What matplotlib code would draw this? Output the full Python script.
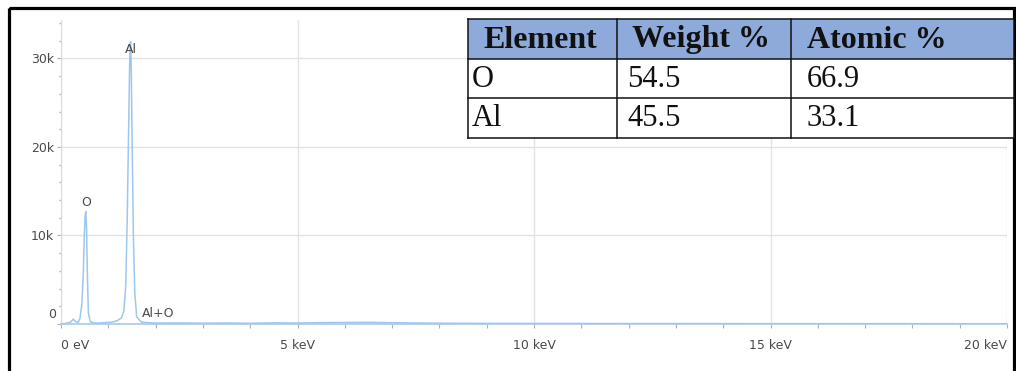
import matplotlib
matplotlib.use("Agg")
import matplotlib.pyplot as plt
from matplotlib.patches import Rectangle

# EDS spectrum (energy in keV, counts)
ENERGY = [0.00, 0.10, 0.20, 0.26, 0.30, 0.36, 0.40, 0.44, 0.47, 0.49, 0.51,
          0.525, 0.54, 0.56, 0.58, 0.62, 0.70, 0.80, 0.90, 1.00, 1.10, 1.20,
          1.28, 1.33, 1.37, 1.40, 1.43, 1.455, 1.47, 1.485, 1.50, 1.53, 1.56,
          1.60, 1.70, 1.85, 2.00, 2.50, 3.00, 3.50, 4.00, 4.50, 5.00, 5.50,
          6.00, 6.50, 7.00, 7.50, 8.00, 9.00, 10.0, 11.0, 12.0, 13.0, 14.0,
          15.0, 16.0, 17.0, 18.0, 19.0, 20.0]
COUNTS = [20, 60, 200, 550, 300, 180, 600, 2200, 5500, 9500, 12300,
          12700, 10800, 5000, 1200, 250, 120, 100, 150, 180, 230, 400,
          700, 1500, 4500, 12000, 22000, 30500, 31900, 29000, 22000, 10000, 3500,
          800, 220, 140, 110, 120, 90, 110, 80, 130, 110, 160,
          170, 190, 150, 110, 90, 70, 60, 60, 50, 50, 45,
          40, 40, 35, 35, 30, 30]

# peak markers: (label, energy keV, counts)
PEAK_LABELS = ["Al", "O", "Al+O"]
PEAK_E = [1.47, 0.53, 1.72]
PEAK_Y = [30300, 13000, 500]

# quantification table
TABLE_HEAD = ["Element", "Weight %", "Atomic %"]
TABLE_ELEM = ["O", "Al"]
TABLE_WT = ["54.5", "45.5"]
TABLE_AT = ["66.9", "33.1"]

W, H = 1016, 371
fig = plt.figure(figsize=(W / 100, H / 100), dpi=100)
fig.patch.set_facecolor("white")

TICK_FONT = ["Liberation Sans Narrow", "DejaVu Sans"]
TXT = "#4a4a4a"
GRID = "#e3e3e3"

ax = fig.add_axes([61 / W, (H - 324) / H, (1007 - 61) / W, (324 - 20) / H])
ax.plot(ENERGY, COUNTS, color="#9cc7ee", lw=1.1, zorder=3)
ax.set_xlim(0, 20)
ax.set_ylim(0, 34350)

ax.set_xticks([0, 5, 10, 15, 20])
ax.set_xticks(range(0, 21), minor=True)
ax.set_xticklabels(["0 eV", "5 keV", "10 keV", "15 keV", "20 keV"],
                   family=TICK_FONT, fontsize=9, color=TXT)
xl = ax.get_xticklabels()
xl[0].set_ha("left")
xl[-1].set_ha("right")
ax.set_yticks([0, 10000, 20000, 30000])
ax.set_yticks(range(0, 34001, 2000), minor=True)
ax.set_yticklabels(["", "10k", "20k", "30k"], family=TICK_FONT, fontsize=9,
                   color=TXT)
ax.annotate("0", xy=(0, 0), xycoords=("axes fraction", "data"),
            xytext=(-5, 9), textcoords="offset pixels", ha="right",
            va="center", family=TICK_FONT, fontsize=9, color=TXT)

ax.tick_params(axis="x", which="both", direction="out", length=3, width=0.8,
               color="#b0b0b0", pad=8)
ax.tick_params(axis="y", which="major", direction="out", length=3, width=0.8,
               color="#b0b0b0", pad=2)
ax.tick_params(axis="y", which="minor", direction="out", length=1.5,
               width=1.0, color="#b0b0b0")
ax.grid(True, which="major", color=GRID, lw=1.0, zorder=0)
for side in ("top", "right"):
    ax.spines[side].set_visible(False)
ax.spines["left"].set_color("#dcdcdc")
ax.spines["bottom"].set_color("#a9c9e6")
ax.spines["left"].set_linewidth(0.8)
ax.spines["bottom"].set_linewidth(1.2)

for lab, e, y in zip(PEAK_LABELS, PEAK_E, PEAK_Y):
    ha = "left" if lab == "Al+O" else "center"
    ax.text(e, y, lab, ha=ha, va="bottom", family=TICK_FONT, fontsize=9,
            color=TXT, zorder=4)

# overlay in pixel coordinates for the table and the outer frame
ov = fig.add_axes([0, 0, 1, 1])
ov.set_xlim(0, W)
ov.set_ylim(H, 0)
ov.axis("off")

ov.add_patch(Rectangle((9, 8), 1005, 400, fill=False, ec="black", lw=2.3,
                       clip_on=False))

col_x = [468, 617, 791, 1014]
row_y = [19, 59, 98, 138]
ov.add_patch(Rectangle((col_x[0], row_y[0]), col_x[-1] - col_x[0],
                       row_y[1] - row_y[0], fc="#8eaadb", ec="none"))
ov.add_patch(Rectangle((col_x[0], row_y[1]), col_x[-1] - col_x[0],
                       row_y[-1] - row_y[1], fc="white", ec="none"))
for x in col_x:
    ov.plot([x, x], [row_y[0], row_y[-1]], color="#111111", lw=1.1)
for y in row_y:
    ov.plot([col_x[0], col_x[-1]], [y, y], color="#111111", lw=1.1)

SERIF = ["Liberation Serif", "DejaVu Serif"]
head_x = [483, 632, 807]
body_x = [472, 627, 807]
for x, t in zip(head_x, TABLE_HEAD):
    ov.text(x, 40, t, ha="left", va="center", family=SERIF,
            fontweight="bold", fontsize=23, color="#111111")
rows = list(zip(TABLE_ELEM, TABLE_WT, TABLE_AT))
for r, vals in enumerate(rows):
    yc = (row_y[r + 1] + row_y[r + 2]) / 2 + 1
    for x, t in zip(body_x, vals):
        ov.text(x, yc, t, ha="left", va="center", family=SERIF,
                fontsize=22, color="#111111")

fig.savefig("out.png", dpi=100, facecolor="white")
